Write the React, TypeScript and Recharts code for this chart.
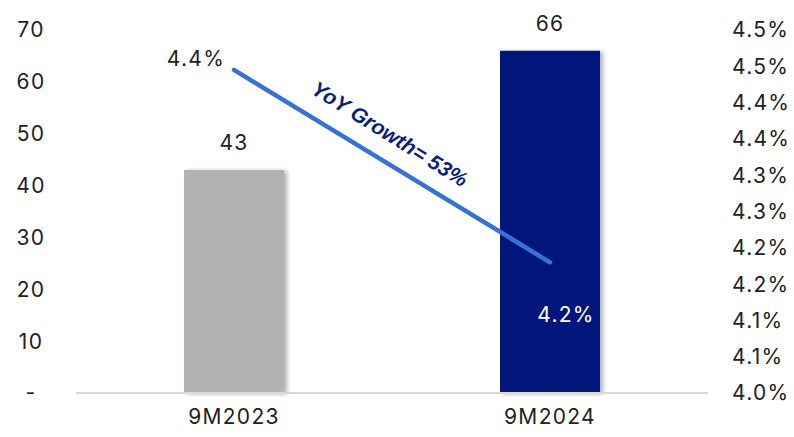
import { ComposedChart, Bar, Line, XAxis, YAxis, LabelList, Cell } from 'recharts'

const periods = ['9M2023', '9M2024']
const amounts = [43, 66]
const yoyRates = [4.445, 4.18]
const rateLabels = ['4.4%', '4.2%']
const barColors = ['#b3b3b3', '#00187a']

const leftTicks = [0, 10, 20, 30, 40, 50, 60, 70]
const leftTickLabels = ['-', '10', '20', '30', '40', '50', '60', '70']
const rightTicks = [4.0, 4.05, 4.1, 4.15, 4.2, 4.25, 4.3, 4.35, 4.4, 4.45, 4.5]
const rightTickLabels = ['4.0%', '4.1%', '4.1%', '4.2%', '4.2%', '4.3%', '4.3%', '4.4%', '4.4%', '4.5%', '4.5%']

const growthNote = 'YoY Growth= 53%'

const data = periods.map((p, i) => ({ period: p, amount: amounts[i], yoy: yoyRates[i] }))

const FONT = 'Inter, "Noto Sans", sans-serif'
const FS = 21
const LS = 1.3

// bar with a soft shadow on the right, like the Excel original
const ShadowBar = (props: any) => {
  const { x, y, width, height, fill } = props
  return <rect x={x} y={y} width={width} height={height} fill={fill} filter="url(#barShadow)" />
}

const RateLabel = (props: any) => {
  const { x, y, index } = props
  if (index === 0) {
    return (
      <g>
        <text x={x - 38} y={y - 11} textAnchor="middle" dominantBaseline="central"
          fontSize={FS} fill="#222" fontFamily={FONT} letterSpacing={LS}>
          {rateLabels[index]}
        </text>
        <text x={x + 156} y={y + 64} textAnchor="middle" dominantBaseline="central"
          fontSize={21} fontWeight="bold" fontStyle="italic" fill="#0b1f80"
          fontFamily='"Liberation Sans", Arial, sans-serif'
          transform={`rotate(32 ${x + 156} ${y + 64})`}>
          {growthNote}
        </text>
      </g>
    )
  }
  return (
    <text x={x + 16} y={y + 52} textAnchor="middle" dominantBaseline="central"
      fontSize={FS} fill="#fff" fontFamily={FONT} letterSpacing={LS}>
      {rateLabels[index]}
    </text>
  )
}

export default function App() {
  const tickStyle = { fontSize: FS, fill: '#222', fontFamily: FONT, letterSpacing: LS }
  return (
    <div style={{ width: 794, height: 437, background: '#fff' }}>
      <style>{`body{margin:0}`}</style>
      <ComposedChart width={794} height={437} data={data}
        margin={{ top: 30, right: 0, bottom: 0, left: 16 }}>
        <defs>
          <filter id="barShadow" x="-10%" y="-10%" width="130%" height="130%">
            <feDropShadow dx={3} dy={1} stdDeviation={2} floodColor="#000" floodOpacity={0.3} />
          </filter>
        </defs>
        <XAxis dataKey="period" height={44} axisLine={{ stroke: '#d9d9d9', strokeWidth: 2 }}
          tickLine={false} tickMargin={10} tick={tickStyle} />
        <YAxis yAxisId="left" orientation="left" width={60} domain={[0, 70]} ticks={leftTicks}
          axisLine={false} tickLine={false} tickMargin={39}
          tick={{ ...tickStyle, textAnchor: 'middle' }}
          tickFormatter={(v: number, i: number) => leftTickLabels[i]} />
        <YAxis yAxisId="right" orientation="right" width={86} domain={[4.0, 4.5]} ticks={rightTicks}
          axisLine={false} tickLine={false} tickMargin={18} tick={tickStyle}
          tickFormatter={(v: number, i: number) => rightTickLabels[i]} />
        <Bar yAxisId="left" dataKey="amount" barSize={100} shape={ShadowBar} isAnimationActive={false}>
          {data.map((d, i) => <Cell key={d.period} fill={barColors[i]} />)}
          <LabelList dataKey="amount" position="top" offset={20}
            style={{ fontSize: FS, fill: '#222', fontFamily: FONT, letterSpacing: LS }} />
        </Bar>
        <Line yAxisId="right" dataKey="yoy" stroke="#3571d6" strokeWidth={4.5} strokeLinecap="round"
          dot={false} activeDot={false} isAnimationActive={false}>
          <LabelList dataKey="yoy" content={RateLabel} />
        </Line>
      </ComposedChart>
    </div>
  )
}
